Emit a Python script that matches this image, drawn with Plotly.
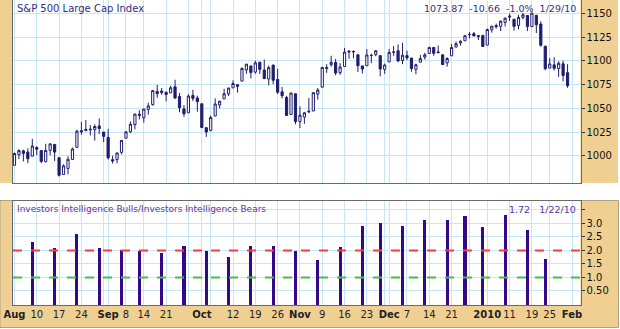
import plotly.graph_objects as go

W, H = 620, 329

# ---------------- data ----------------
dates = [
    "2009-08-03","2009-08-04","2009-08-05","2009-08-06","2009-08-07",
    "2009-08-10","2009-08-11","2009-08-12","2009-08-13","2009-08-14",
    "2009-08-17","2009-08-18","2009-08-19","2009-08-20","2009-08-21",
    "2009-08-24","2009-08-25","2009-08-26","2009-08-27","2009-08-28",
    "2009-08-31","2009-09-01","2009-09-02","2009-09-03","2009-09-04",
    "2009-09-08","2009-09-09","2009-09-10","2009-09-11",
    "2009-09-14","2009-09-15","2009-09-16","2009-09-17","2009-09-18",
    "2009-09-21","2009-09-22","2009-09-23","2009-09-24","2009-09-25",
    "2009-09-28","2009-09-29","2009-09-30","2009-10-01","2009-10-02",
    "2009-10-05","2009-10-06","2009-10-07","2009-10-08","2009-10-09",
    "2009-10-12","2009-10-13","2009-10-14","2009-10-15","2009-10-16",
    "2009-10-19","2009-10-20","2009-10-21","2009-10-22","2009-10-23",
    "2009-10-26","2009-10-27","2009-10-28","2009-10-29","2009-10-30",
    "2009-11-02","2009-11-03","2009-11-04","2009-11-05","2009-11-06",
    "2009-11-09","2009-11-10","2009-11-11","2009-11-12","2009-11-13",
    "2009-11-16","2009-11-17","2009-11-18","2009-11-19","2009-11-20",
    "2009-11-23","2009-11-24","2009-11-25","2009-11-27",
    "2009-11-30","2009-12-01","2009-12-02","2009-12-03","2009-12-04",
    "2009-12-07","2009-12-08","2009-12-09","2009-12-10","2009-12-11",
    "2009-12-14","2009-12-15","2009-12-16","2009-12-17","2009-12-18",
    "2009-12-21","2009-12-22","2009-12-23","2009-12-24",
    "2009-12-28","2009-12-29","2009-12-30","2009-12-31",
    "2010-01-04","2010-01-05","2010-01-06","2010-01-07","2010-01-08",
    "2010-01-11","2010-01-12","2010-01-13","2010-01-14","2010-01-15",
    "2010-01-19","2010-01-20","2010-01-21","2010-01-22",
    "2010-01-25","2010-01-26","2010-01-27","2010-01-28","2010-01-29",
]

opens = [
    990.2, 1001.4, 1005.4, 1004.1, 999.8,
    1008.9, 1005.8, 994.0, 1005.9, 1012.2,
    998.2, 980.6, 986.9, 996.4, 1009.1,
    1026.6, 1026.6, 1027.4, 1027.8, 1031.6,
    1025.2, 1019.5, 996.1, 996.1, 1003.8,
    1018.7, 1025.4, 1033.0, 1043.9,
    1040.2, 1049.0, 1054.0, 1067.9, 1066.6,
    1067.1, 1066.4, 1072.7, 1062.6, 1049.5,
    1045.4, 1063.7, 1061.0, 1054.9, 1029.7,
    1026.9, 1042.0, 1053.7, 1060.0, 1065.3,
    1071.6, 1075.0, 1078.7, 1090.4, 1094.7,
    1088.2, 1098.6, 1090.4, 1081.0, 1095.6,
    1080.4, 1067.5, 1061.5, 1043.7, 1065.4,
    1036.2, 1040.9, 1047.1, 1047.3, 1065.0,
    1072.3, 1091.9, 1096.0, 1098.3, 1087.6,
    1094.1, 1109.2, 1109.4, 1106.4, 1094.7,
    1094.9, 1105.8, 1106.5, 1105.5,
    1091.1, 1098.9, 1109.0, 1110.6, 1100.4,
    1105.5, 1103.0, 1091.1, 1098.7, 1104.0,
    1107.8, 1114.1, 1108.6, 1106.4, 1097.9,
    1105.3, 1114.5, 1118.8, 1121.1,
    1127.5, 1128.6, 1125.5, 1126.6,
    1116.6, 1132.7, 1135.7, 1136.3, 1140.5,
    1146.0, 1143.8, 1137.3, 1145.7, 1147.7,
    1136.0, 1148.0, 1138.7, 1115.5,
    1092.4, 1095.8, 1091.9, 1096.9, 1087.6,
]

highs = [
    1003.6, 1007.1, 1006.6, 1008.0, 1018.0,
    1010.1, 1005.8, 1012.8, 1013.1, 1012.6,
    998.2, 991.2, 999.6, 1008.9, 1027.6,
    1035.8, 1037.8, 1032.5, 1033.3, 1039.5,
    1025.2, 1028.5, 1000.3, 1003.4, 1016.5,
    1026.1, 1036.3, 1044.1, 1048.2,
    1049.7, 1056.0, 1068.8, 1074.8, 1071.5,
    1067.3, 1073.8, 1080.2, 1066.3, 1053.5,
    1065.1, 1069.6, 1063.4, 1054.9, 1030.6,
    1042.6, 1060.6, 1058.0, 1070.7, 1071.5,
    1079.5, 1075.3, 1093.2, 1096.6, 1094.7,
    1100.2, 1098.6, 1101.4, 1095.2, 1095.8,
    1091.8, 1072.5, 1063.3, 1066.8, 1065.4,
    1052.2, 1046.4, 1061.0, 1066.7, 1071.5,
    1093.2, 1096.4, 1105.4, 1102.0, 1097.6,
    1113.7, 1110.5, 1111.1, 1106.4, 1094.7,
    1112.4, 1107.6, 1111.2, 1105.5,
    1097.2, 1112.3, 1115.6, 1117.3, 1119.1,
    1110.7, 1103.0, 1097.0, 1106.3, 1108.5,
    1114.8, 1114.1, 1116.2, 1106.4, 1103.7,
    1117.7, 1120.3, 1121.6, 1126.5,
    1130.4, 1130.4, 1126.4, 1127.6,
    1133.9, 1136.6, 1139.2, 1142.5, 1145.4,
    1149.7, 1143.8, 1148.4, 1150.4, 1147.8,
    1150.5, 1148.0, 1141.6, 1115.5,
    1103.0, 1103.7, 1099.5, 1100.2, 1096.5,
]

lows = [
    990.2, 996.7, 994.3, 992.5, 999.8,
    1001.0, 992.4, 993.4, 1000.8, 994.6,
    978.5, 980.6, 980.6, 996.4, 1009.1,
    1022.5, 1026.2, 1021.6, 1016.2, 1023.1,
    1014.6, 996.3, 992.0, 992.3, 1001.7,
    1018.7, 1024.0, 1028.0, 1038.4,
    1035.0, 1043.4, 1052.9, 1061.2, 1064.3,
    1057.5, 1066.4, 1060.4, 1045.9, 1041.2,
    1045.4, 1057.8, 1046.5, 1029.5, 1020.0,
    1025.9, 1042.0, 1050.1, 1060.0, 1063.0,
    1071.6, 1066.7, 1078.7, 1086.4, 1081.5,
    1086.5, 1086.2, 1080.8, 1074.3, 1075.5,
    1065.2, 1060.6, 1042.2, 1043.7, 1033.4,
    1029.4, 1033.9, 1045.2, 1047.3, 1059.3,
    1072.3, 1087.4, 1093.8, 1084.9, 1085.3,
    1094.1, 1102.2, 1102.7, 1088.4, 1086.8,
    1094.9, 1097.6, 1104.8, 1083.7,
    1086.3, 1098.9, 1105.3, 1098.7, 1096.5,
    1100.8, 1088.6, 1085.9, 1098.7, 1101.3,
    1107.8, 1105.4, 1108.0, 1095.9, 1093.9,
    1105.3, 1114.5, 1116.0, 1121.1,
    1123.5, 1126.1, 1121.9, 1114.8,
    1116.6, 1129.7, 1134.0, 1131.3, 1136.2,
    1142.0, 1131.8, 1133.2, 1143.8, 1131.4,
    1135.8, 1129.3, 1114.8, 1090.2,
    1092.4, 1089.9, 1083.1, 1078.5, 1071.6,
]

closes = [
    1002.63, 1005.65, 1002.72, 997.08, 1010.48,
    1007.10, 994.35, 1005.81, 1012.73, 1004.09,
    979.73, 989.67, 996.46, 1007.37, 1026.13,
    1025.57, 1028.00, 1028.12, 1030.98, 1028.93,
    1020.62, 998.04, 994.75, 1003.24, 1016.40,
    1025.39, 1033.37, 1044.14, 1042.73,
    1049.34, 1052.63, 1068.76, 1065.49, 1068.30,
    1064.66, 1071.66, 1060.87, 1050.78, 1044.38,
    1062.98, 1060.61, 1057.08, 1029.85, 1025.21,
    1040.46, 1054.72, 1057.58, 1065.48, 1071.49,
    1076.19, 1073.19, 1092.02, 1096.56, 1087.68,
    1097.91, 1091.06, 1081.40, 1092.91, 1079.60,
    1066.95, 1063.41, 1042.63, 1066.11, 1036.19,
    1042.88, 1045.41, 1046.50, 1066.63, 1069.30,
    1093.08, 1093.01, 1098.51, 1087.24, 1093.48,
    1109.30, 1110.32, 1109.80, 1094.90, 1091.38,
    1106.24, 1105.65, 1110.63, 1091.49,
    1095.63, 1108.86, 1109.24, 1099.92, 1105.98,
    1103.25, 1091.94, 1095.95, 1102.35, 1106.41,
    1114.11, 1107.93, 1109.18, 1096.08, 1102.47,
    1114.05, 1118.02, 1120.59, 1126.48,
    1127.78, 1126.20, 1126.42, 1115.10,
    1132.99, 1136.52, 1137.14, 1141.69, 1144.98,
    1146.98, 1136.22, 1145.68, 1148.46, 1136.03,
    1150.23, 1138.04, 1116.48, 1091.76,
    1096.78, 1092.17, 1097.50, 1084.53, 1073.87,
]

ii_dates = [
    "2009-08-07","2009-08-14","2009-08-21","2009-08-28",
    "2009-09-04","2009-09-11","2009-09-18","2009-09-25",
    "2009-10-02","2009-10-09","2009-10-16","2009-10-23","2009-10-30",
    "2009-11-06","2009-11-13","2009-11-20","2009-11-27",
    "2009-12-04","2009-12-11","2009-12-18","2009-12-24","2009-12-31",
    "2010-01-08","2010-01-15","2010-01-22",
]
ii_ratio = [
    2.35, 2.12, 2.61, 2.12,
    2.05, 2.00, 1.94, 2.17,
    2.00, 1.78, 2.17, 2.17, 2.00,
    1.67, 2.15, 2.91, 3.02,
    2.94, 3.13, 3.13, 3.28, 2.87,
    3.35, 2.79, 1.72,
]

tick_dates = [
    "2009-08-03","2009-08-10","2009-08-17","2009-08-24","2009-08-31",
    "2009-09-01","2009-09-08","2009-09-14","2009-09-21","2009-09-28",
    "2009-10-01","2009-10-05","2009-10-12","2009-10-19","2009-10-26",
    "2009-11-02","2009-11-09","2009-11-16","2009-11-23","2009-11-30",
    "2009-12-01","2009-12-07","2009-12-14","2009-12-21","2009-12-28",
    "2010-01-04","2010-01-11","2010-01-19","2010-01-25","2010-02-01",
]
tick_labels = [
    "<b>Aug</b>","10","17","24","",
    "<b>Sep</b>","8","14","21","",
    "<b>Oct</b>","","12","19","26",
    "<b>Nov</b>","9","16","23","",
    "<b>Dec</b>","7","14","21","",
    "<b>2010</b>","11","19","25","<b>Feb</b>",
]

price_ticks = [1000, 1025, 1050, 1075, 1100, 1125, 1150]
ratio_ticks = [0.5, 1.0, 1.5, 2.0, 2.5, 3.0, 3.5]
ratio_labels = ["0.50", "1.0", "1.5", "2.0", "2.5", "3.0", ""]
upper_line = 2.0
lower_line = 1.0

# ---------------- positions (trading-day index axis) ----------------
def pos(d):
    return dates.index(d) if d in dates else len(dates)

xi = list(range(len(dates)))
ii_x = [pos(d) for d in ii_dates]
tick_x = [pos(d) for d in tick_dates]

NAVY = "#1E1E6E"
PURPLE = "#33098A"
TAN = "#F0D092"
GRID = "#C6E6F6"
FRAME = "#6A6A6A"
FONT = "DejaVu Sans"

x_range = [-0.33, 126.9]

fig = go.Figure()

fig.add_trace(go.Candlestick(
    x=xi, open=opens, high=highs, low=lows, close=closes,
    increasing=dict(line=dict(color=NAVY, width=1), fillcolor="white"),
    decreasing=dict(line=dict(color=NAVY, width=1), fillcolor=NAVY),
    whiskerwidth=0, showlegend=False, xaxis="x", yaxis="y",
))

# dashed reference levels on the ratio panel (span the full axis range)
fig.add_trace(go.Scatter(
    x=x_range, y=[upper_line, upper_line], mode="lines",
    line=dict(color="#FF3C3C", width=2, dash="dash"),
    showlegend=False, hoverinfo="skip", xaxis="x2", yaxis="y2",
))
fig.add_trace(go.Scatter(
    x=x_range, y=[lower_line, lower_line], mode="lines",
    line=dict(color="#44C044", width=2, dash="dash"),
    showlegend=False, hoverinfo="skip", xaxis="x2", yaxis="y2",
))

fig.add_trace(go.Bar(
    x=ii_x, y=ii_ratio, width=0.7, marker=dict(color=PURPLE, line=dict(width=0)),
    showlegend=False, xaxis="x2", yaxis="y2",
))

def px_x(p):
    return p / W

def px_y(p):
    return 1 - p / H

x_dom = [px_x(13), px_x(580.5)]
top_dom = [px_y(183), px_y(0)]
bot_dom = [px_y(305), px_y(200.5)]

common_x = dict(range=x_range, tickmode="array", tickvals=tick_x,
                showgrid=True, gridcolor=GRID, gridwidth=1, zeroline=False,
                showline=True, linecolor=FRAME, linewidth=1, mirror=True,
                domain=x_dom, fixedrange=True, tickangle=0, automargin=False)

fig.update_layout(
    width=W, height=H,
    margin=dict(l=0, r=0, t=0, b=0, pad=0, autoexpand=False),
    paper_bgcolor="white", plot_bgcolor="white",
    showlegend=False,
    bargap=0,
    xaxis=dict(**common_x, ticktext=[""] * len(tick_x), showticklabels=False,
               anchor="y", rangeslider=dict(visible=False)),
    yaxis=dict(domain=top_dom, range=[971.6, 1164.0], side="right",
               tickmode="array", tickvals=price_ticks, automargin=False,
               ticks="outside", ticklen=3, tickcolor="#333", tickwidth=1,
               tickfont=dict(family=FONT, size=10, color="#111"),
               showgrid=True, gridcolor=GRID, zeroline=False,
               showline=True, linecolor=FRAME, linewidth=1, mirror=True,
               anchor="x", fixedrange=True),
    xaxis2=dict(**common_x, ticktext=tick_labels, ticks="", anchor="y2",
                tickfont=dict(family=FONT, size=10, color="#222")),
    yaxis2=dict(domain=bot_dom, range=[-0.02, 3.85], side="right",
                tickmode="array", tickvals=ratio_ticks, ticktext=ratio_labels,
                automargin=False,
                ticks="outside", ticklen=3, tickcolor="#333", tickwidth=1,
                tickfont=dict(family=FONT, size=10, color="#111"),
                showgrid=True, gridcolor=GRID, zeroline=False,
                showline=True, linecolor=FRAME, linewidth=1, mirror=True,
                anchor="x2", fixedrange=True),
)

shapes = []
# tan frame strips (paper coordinates)
for (x0, y0, x1, y1) in [
    (0, 0, 12.5, 183), (580.5, 0, 618, 183),
    (0, 200.5, 12.5, 327), (580.5, 200.5, 618, 327), (0, 305, 618, 327),
]:
    shapes.append(dict(type="rect", xref="paper", yref="paper",
                       x0=px_x(x0), x1=px_x(x1), y0=px_y(y1), y1=px_y(y0),
                       fillcolor=TAN, line=dict(width=0), layer="below"))
# outer edge of the lower frame
shapes.append(dict(type="rect", xref="paper", yref="paper",
                   x0=px_x(0), x1=px_x(618.5), y0=px_y(327.5), y1=px_y(200.5),
                   fillcolor="rgba(0,0,0,0)", line=dict(color="#B0A080", width=1),
                   layer="below"))
fig.update_layout(shapes=shapes)

last = closes[-1]
chg = closes[-1] - closes[-2]
pct = chg / closes[-2] * 100
top_info = f"{last:.2f}  {chg:.2f}  {pct:.1f}%  1/29/10"
bot_info = f"{ii_ratio[-1]:.2f}   1/22/10"

ann = [
    dict(text="S&P 500 Large Cap Index", x=px_x(15), y=px_y(1), xref="paper", yref="paper",
         xanchor="left", yanchor="top", showarrow=False,
         font=dict(family=FONT, size=10, color="#2E2E86")),
    dict(text=top_info, x=px_x(578), y=px_y(1), xref="paper", yref="paper",
         xanchor="right", yanchor="top", showarrow=False,
         font=dict(family=FONT, size=9.5, color="#2E2E86")),
    dict(text="Investors Intelligence Bulls/Investors Intelligence Bears",
         x=px_x(15), y=px_y(201.5), xref="paper", yref="paper",
         xanchor="left", yanchor="top", showarrow=False,
         font=dict(family=FONT, size=9, color="#5A38A8")),
    dict(text=bot_info, x=px_x(578), y=px_y(201.5), xref="paper", yref="paper",
         xanchor="right", yanchor="top", showarrow=False,
         font=dict(family=FONT, size=9.5, color="#5A38A8")),
]
fig.update_layout(annotations=ann)

fig.write_html("out.html")
